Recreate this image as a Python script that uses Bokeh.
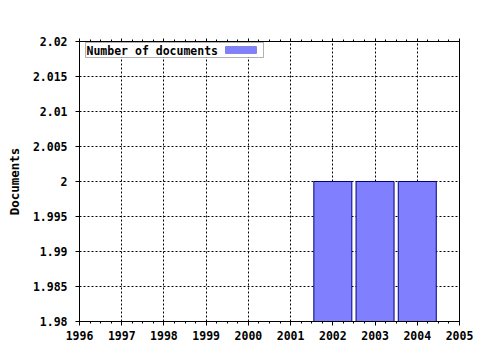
from bokeh.plotting import figure
from bokeh.models import (FixedTicker, SingleIntervalTicker, LinearAxis, Range1d,
                          Label, BoxAnnotation, CustomJSTickFormatter)
from bokeh.embed import file_html
from bokeh.resources import INLINE

# data
years = [2002, 2003, 2004]
documents = [2, 2, 2]
x_start, x_end = 1996, 2005
y_start, y_end = 1.98, 2.02
y_ticks = [1.98, 1.985, 1.99, 1.995, 2.0, 2.005, 2.01, 2.015, 2.02]
y_tick_labels = ["1.98", "1.985", "1.99", "1.995", "2", "2.005", "2.01", "2.015", "2.02"]
series_name = "Number of documents"
y_label = "Documents"

FONT = "DejaVu Sans Mono"
FSIZE = "11.5px"
BAR_FILL = "#8080ff"
BAR_LINE = "#000080"

p = figure(width=480, height=350, output_backend="svg", toolbar_location=None,
           x_range=Range1d(x_start, x_end), y_range=Range1d(y_start, y_end),
           x_axis_location=None, y_axis_location=None,
           min_border_left=79, min_border_right=21, min_border_top=41,
           min_border_bottom=29)
p.outline_line_color = "black"
p.outline_line_width = 1
p.background_fill_color = "white"
p.border_fill_color = "white"

p.vbar(x=years, top=documents, bottom=y_start, width=0.9,
       fill_color=BAR_FILL, line_color=BAR_LINE, line_width=1)

def style(ax):
    ax.axis_line_color = "black"
    ax.major_tick_line_color = "black"
    ax.minor_tick_line_color = "black"
    ax.major_label_text_color = "black"
    ax.axis_label_text_color = "black"
    ax.major_label_text_font = FONT
    ax.major_label_text_font_style = "bold"
    ax.major_label_text_font_size = FSIZE

# axes
xb = LinearAxis(ticker=SingleIntervalTicker(interval=1, num_minor_ticks=4))
style(xb)
xb.major_tick_out = 4
xb.major_tick_in = 0
xb.minor_tick_out = 2
xb.minor_tick_in = 0
xb.major_label_standoff = 5
p.add_layout(xb, "below")

xt = LinearAxis(ticker=SingleIntervalTicker(interval=1, num_minor_ticks=4),
                formatter=CustomJSTickFormatter(code="return ''"))
style(xt)
xt.major_tick_out = 3
xt.major_tick_in = 0
xt.minor_tick_out = 2
xt.minor_tick_in = 0
xt.major_label_standoff = 0
p.add_layout(xt, "above")

yl = LinearAxis(ticker=FixedTicker(ticks=y_ticks))
style(yl)
yl.major_label_overrides = dict(zip(y_ticks, y_tick_labels))
yl.major_tick_out = 4
yl.major_tick_in = 0
yl.minor_tick_out = 0
yl.minor_tick_in = 0
yl.major_label_standoff = 8
yl.axis_label = y_label
yl.axis_label_text_font = FONT
yl.axis_label_text_font_style = "bold"
yl.axis_label_text_font_size = "12.5px"
yl.axis_label_standoff = 8
p.add_layout(yl, "left")

# grid
p.xgrid.ticker = SingleIntervalTicker(interval=1)
p.ygrid.ticker = FixedTicker(ticks=y_ticks)
for g in (p.xgrid, p.ygrid):
    g.grid_line_color = "black"
    g.grid_line_dash = "2 2"
    g.grid_line_width = 1

# legend (label on left, swatch on right); screen units relative to the frame
p.add_layout(BoxAnnotation(left=6, right=184, top=279, bottom=264,
                           left_units="screen", right_units="screen",
                           top_units="screen", bottom_units="screen",
                           fill_color="white", fill_alpha=1,
                           line_color="black", line_width=1))
p.add_layout(BoxAnnotation(left=146, right=177, top=275, bottom=268,
                           left_units="screen", right_units="screen",
                           top_units="screen", bottom_units="screen",
                           fill_color=BAR_FILL, fill_alpha=1,
                           line_color=BAR_LINE, line_width=1))
p.add_layout(Label(x=7, y=271, x_units="screen", y_units="screen",
                   text=series_name, text_font=FONT, text_font_style="bold",
                   text_font_size=FSIZE, text_baseline="middle",
                   text_align="left", text_color="black"))

open("out.html", "w").write(file_html(p, INLINE))
